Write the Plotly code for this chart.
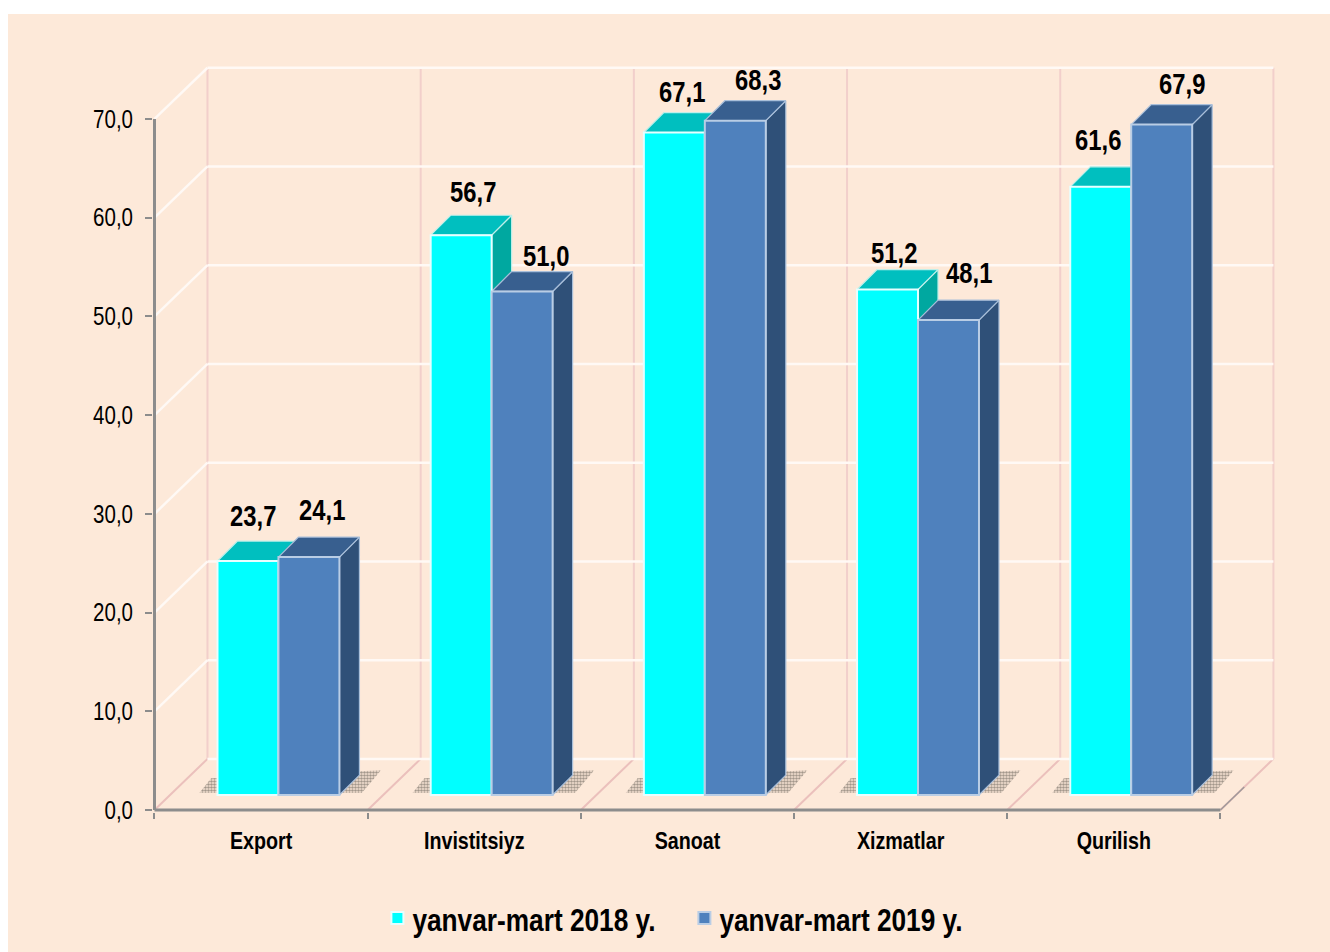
import plotly.graph_objects as go

# ---- data ----
categories = ["Export", "Invistitsiyz", "Sanoat", "Xizmatlar", "Qurilish"]
series_2018 = [23.7, 56.7, 67.1, 51.2, 61.6]
series_2019 = [24.1, 51.0, 68.3, 48.1, 67.9]
series_names = ["yanvar-mart 2018 y.", "yanvar-mart 2019 y."]
y_ticks = [0, 10, 20, 30, 40, 50, 60, 70]
y_tick_labels = ["0,0", "10,0", "20,0", "30,0", "40,0", "50,0", "60,0", "70,0"]
labels_2018 = ["23,7", "56,7", "67,1", "51,2", "61,6"]
labels_2019 = ["24,1", "51,0", "68,3", "48,1", "67,9"]

# ---- geometry in axis units ----
X_MIN, X_MAX = -0.007, 5.256
Y_MIN, Y_MAX = -0.2, 75.66
WALL_DX = 0.2486
WALL_DY = 5.18
BAR_DX = 0.0938
BAR_DY = 2.02
BAR_BASE = 1.52
BAR_W = 0.286
BAR_START = 0.2955

FONT = "Liberation Sans"
PEACH = "#FDE9D9"
CYAN, CYAN_TOP, CYAN_SIDE = "#00FFFF", "#00BFBF", "#00A8A0"
BLUE, BLUE_TOP, BLUE_SIDE = "#4F81BD", "#385F8F", "#2F5078"

# label nudges in pixels, relative to the bar centre and front top edge
nudge_2018 = [(5, 45), (12, 43), (8, 41), (6, 37), (-3, 47)]
nudge_2019 = [(13, 47), (24, 35), (23, 41), (20, 47), (20, 41)]


def poly(points_list):
    xs, ys = [], []
    for pts in points_list:
        xs += [p[0] for p in pts] + [pts[0][0], None]
        ys += [p[1] for p in pts] + [pts[0][1], None]
    return xs, ys


def segs(seg_list):
    xs, ys = [], []
    for (a, b) in seg_list:
        xs += [a[0], b[0], None]
        ys += [a[1], b[1], None]
    return xs, ys


fig = go.Figure()


def add_line(seg_list, color, width, dash="solid"):
    xs, ys = segs(seg_list)
    fig.add_trace(go.Scatter(x=xs, y=ys, mode="lines", showlegend=False, hoverinfo="skip",
                             line=dict(color=color, width=width, dash=dash)))


n = len(categories)
PINK = "#F2CFCB"
WHITE = "#FFF9F5"
# floor and back wall verticals
add_line([((i, 0), (i + WALL_DX, WALL_DY)) for i in range(n + 1)], "#EBC0BC", 2)
add_line([((i + WALL_DX, WALL_DY), (i + WALL_DX, 70 + WALL_DY)) for i in range(n + 1)], PINK, 2)
# gridlines on left wall and back wall
add_line([((0, v), (WALL_DX, v + WALL_DY)) for v in y_ticks[1:]], WHITE, 2.5)
add_line([((WALL_DX, v + WALL_DY), (n + WALL_DX, v + WALL_DY)) for v in y_ticks], WHITE, 2.5)
# gray axes
add_line([((0, 0), (0, 70))], "#8C8C8C", 3)
add_line([((0, 0), (n, 0))], "#8C8C8C", 3)
add_line([((n, 0), (n + WALL_DX * 0.45, WALL_DY * 0.45))], "#A09A9A", 1.5)

# floor shadows
sx, sy = poly([[(i + BAR_START - 0.085, BAR_BASE + 0.2),
                (i + BAR_START + 2 * BAR_W + 0.105, BAR_BASE + 0.2),
                (i + BAR_START + 2 * BAR_W + 0.195, BAR_BASE + 2.5),
                (i + BAR_START - 0.03, BAR_BASE + 1.7)] for i in range(n)])
fig.add_trace(go.Scatter(x=sx, y=sy, mode="none", fill="toself", showlegend=False, hoverinfo="skip",
                         fillcolor="rgba(0,0,0,0)",
                         fillpattern=dict(shape=".", fgcolor="#4A4540", bgcolor="rgba(0,0,0,0)",
                                          size=3, solidity=0.6)))


def add_faces(values, offset, top_col, side_col, edge):
    side, top = [], []
    for i, v in enumerate(values):
        x0 = i + BAR_START + offset
        x1 = x0 + BAR_W
        y1 = BAR_BASE + v
        side.append([(x1, BAR_BASE), (x1 + BAR_DX, BAR_BASE + BAR_DY),
                     (x1 + BAR_DX, y1 + BAR_DY), (x1, y1)])
        top.append([(x0, y1), (x1, y1), (x1 + BAR_DX, y1 + BAR_DY), (x0 + BAR_DX, y1 + BAR_DY)])
    for polys, col in ((side, side_col), (top, top_col)):
        xs, ys = poly(polys)
        fig.add_trace(go.Scatter(x=xs, y=ys, mode="lines", fill="toself", fillcolor=col, showlegend=False,
                                 hoverinfo="skip", line=dict(color=edge, width=1.2)))


add_faces(series_2018, 0, CYAN_TOP, CYAN_SIDE, "#BFEFEA")
add_faces(series_2019, BAR_W, BLUE_TOP, BLUE_SIDE, "#A9BFDA")

# front faces on an overlay so they sit above the depth faces
centres = [i + BAR_START + BAR_W / 2 for i in range(n)]
fig.add_trace(go.Bar(x=centres, y=series_2018, base=BAR_BASE, width=BAR_W, name=series_names[0],
                     marker=dict(color=CYAN, line=dict(color="#E6FFFF", width=2)),
                     xaxis="x2", yaxis="y2"))
fig.add_trace(go.Bar(x=[c + BAR_W for c in centres], y=series_2019, base=BAR_BASE, width=BAR_W,
                     name=series_names[1],
                     marker=dict(color=BLUE, line=dict(color="#B9CDE5", width=2)),
                     xaxis="x2", yaxis="y2"))

# value labels
for offset, vals, labs, nudges in ((0, series_2018, labels_2018, nudge_2018),
                                   (BAR_W, series_2019, labels_2019, nudge_2019)):
    for i, (v, lab, nd) in enumerate(zip(vals, labs, nudges)):
        fig.add_annotation(x=centres[i] + offset, y=BAR_BASE + v, text=lab, showarrow=False,
                           xref="x2", yref="y2", xshift=nd[0], yshift=nd[1],
                           font=dict(family=FONT, size=29, color="black", weight="bold"))

fig.update_layout(
    width=1322, height=938,
    margin=dict(l=145.01, r=54.89, t=48.5, b=139.52, pad=0, autoexpand=False),
    paper_bgcolor=PEACH, plot_bgcolor=PEACH,
    barmode="overlay",
    xaxis=dict(range=[X_MIN, X_MAX], showgrid=False, zeroline=False, showline=False,
               tickmode="array", tickvals=[i + 0.5 for i in range(n)], ticktext=categories,
               ticks="", ticklen=0, ticklabelstandoff=12,
               tickfont=dict(family=FONT, size=24, color="black", weight="bold"),
               minor=dict(tickmode="array", tickvals=list(range(n + 1)), ticks="outside",
                          ticklen=6, tickwidth=2, tickcolor="#8C8C8C", showgrid=False)),
    yaxis=dict(range=[Y_MIN, Y_MAX], showgrid=False, zeroline=False, showline=False,
               tickmode="array", tickvals=y_ticks, ticktext=y_tick_labels,
               ticks="outside", ticklen=7, tickwidth=2, tickcolor="#8C8C8C", ticklabelstandoff=7,
               tickfont=dict(family=FONT, size=25, color="black")),
    xaxis2=dict(range=[X_MIN, X_MAX], overlaying="x", visible=False),
    yaxis2=dict(range=[Y_MIN, Y_MAX], overlaying="y", visible=False),
    legend=dict(orientation="h", x=0.2, xanchor="left", y=0.036, yref="container", yanchor="middle",
                bgcolor="rgba(0,0,0,0)", font=dict(family=FONT, size=32, color="black", weight="bold"),
                itemwidth=30, traceorder="normal", entrywidth=262, entrywidthmode="pixels"),
    showlegend=True,
)

# Arial Narrow is not installed: condense the real text to its proportions.
post = """
document.documentElement.style.overflow='hidden';
document.body.style.margin='14px 0 0 8px';
document.body.style.background='white';
(function(){
  var gd=document.getElementById('{plot_id}');
  function cond(){
    gd.querySelectorAll('text').forEach(function(t){
      if(t.dataset.cond||!t.textContent) return;
      var w=t.getComputedTextLength();
      if(!w) return;
      t.setAttribute('textLength',w*0.82);
      t.setAttribute('lengthAdjust','spacingAndGlyphs');
      if(t.classList.contains('legendtext')){t.setAttribute('x',parseFloat(t.getAttribute('x'))-5);}
      t.dataset.cond='1';
    });
  }
  cond();
  if(gd.on) gd.on('plotly_afterplot',cond);
  setTimeout(cond,50);
})();
"""
fig.write_html("out.html", config={"displayModeBar": False}, post_script=post)
